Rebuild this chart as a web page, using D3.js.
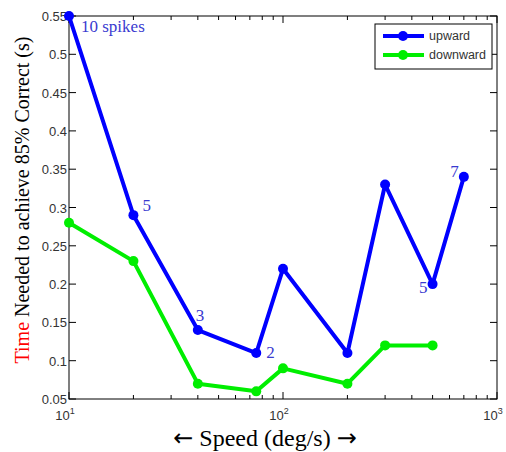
<!DOCTYPE html>
<html>
<head>
<meta charset="utf-8">
<script src="https://cdn.jsdelivr.net/npm/d3@7"></script>
<style>
  body { margin: 0; background: #fff; }
</style>
</head>
<body>
<div id="chart"></div>
<script>
// data
const speedsUp = [10, 20, 40, 75, 100, 200, 300, 500, 700];
const timeUp = [0.55, 0.29, 0.14, 0.11, 0.22, 0.11, 0.33, 0.20, 0.34];
const speedsDown = [10, 20, 40, 75, 100, 200, 300, 500];
const timeDown = [0.28, 0.23, 0.07, 0.06, 0.09, 0.07, 0.12, 0.12];
const spikeLabels = [
  {x: 10, y: 0.55, text: "10 spikes", dx: 12, dy: 16, anchor: "start"},
  {x: 20, y: 0.29, text: "5", dx: 9, dy: -4, anchor: "start"},
  {x: 40, y: 0.14, text: "3", dx: -2, dy: -9, anchor: "start"},
  {x: 75, y: 0.11, text: "2", dx: 10, dy: 5, anchor: "start"},
  {x: 500, y: 0.20, text: "5", dx: -5, dy: 9, anchor: "end"},
  {x: 700, y: 0.34, text: "7", dx: -5, dy: 0, anchor: "end"}
];
const yTicks = [0.05, 0.1, 0.15, 0.2, 0.25, 0.3, 0.35, 0.4, 0.45, 0.5, 0.55];
const xMajor = [10, 100, 1000];

const width = 506, height = 452;
const mLeft = 69, mRight = 497, mTop = 16, mBottom = 399;
const serif = "'Liberation Serif', 'Times New Roman', serif";
const sans = "'Liberation Sans', Arial, sans-serif";

const svg = d3.select("#chart").append("svg")
  .attr("width", width)
  .attr("height", height);

const x = d3.scaleLog().domain([10, 1000]).range([mLeft, mRight]);
const y = d3.scaleLinear().domain([0.05, 0.55]).range([mBottom, mTop]);

// box
svg.append("rect")
  .attr("x", mLeft).attr("y", mTop)
  .attr("width", mRight - mLeft).attr("height", mBottom - mTop)
  .attr("fill", "none").attr("stroke", "#000").attr("stroke-width", 1);

// x ticks (inward, bottom and top)
const xMinor = [];
for (let d = 10; d < 1000; d *= 10) {
  for (let k = 2; k <= 9; k++) xMinor.push(d * k);
}
xMinor.forEach(v => {
  svg.append("line").attr("x1", x(v)).attr("x2", x(v)).attr("y1", mBottom).attr("y2", mBottom - 4).attr("stroke", "#000");
  svg.append("line").attr("x1", x(v)).attr("x2", x(v)).attr("y1", mTop).attr("y2", mTop + 4).attr("stroke", "#000");
});
xMajor.forEach(v => {
  svg.append("line").attr("x1", x(v)).attr("x2", x(v)).attr("y1", mBottom).attr("y2", mBottom - 7).attr("stroke", "#000");
  svg.append("line").attr("x1", x(v)).attr("x2", x(v)).attr("y1", mTop).attr("y2", mTop + 7).attr("stroke", "#000");
  const t = svg.append("text")
    .attr("x", x(v) - 4).attr("y", mBottom + 21)
    .attr("text-anchor", "middle")
    .attr("font-family", sans)
    .attr("font-size", 13).attr("fill", "#333");
  t.append("tspan").text("10");
  t.append("tspan").attr("dy", -6).attr("font-size", 9).text(Math.round(Math.log10(v)));
});

// y ticks
yTicks.forEach(v => {
  svg.append("line").attr("x1", mLeft).attr("x2", mLeft + 7).attr("y1", y(v)).attr("y2", y(v)).attr("stroke", "#000");
  svg.append("line").attr("x1", mRight).attr("x2", mRight - 7).attr("y1", y(v)).attr("y2", y(v)).attr("stroke", "#000");
  svg.append("text")
    .attr("x", mLeft - 2).attr("y", y(v) + 5)
    .attr("text-anchor", "end")
    .attr("font-family", sans)
    .attr("font-size", 13).attr("fill", "#333")
    .text(Math.round(v * 100) % 10 === 0 ? v.toFixed(1) : v.toFixed(2));
});

// lines
const line = d3.line().x(d => x(d[0])).y(d => y(d[1]));
const series = [
  {name: "upward", color: "#0000ff", pts: d3.zip(speedsUp, timeUp)},
  {name: "downward", color: "#00ee00", pts: d3.zip(speedsDown, timeDown)}
];
series.slice().reverse().forEach(s => {
  svg.append("path").datum(s.pts)
    .attr("d", line)
    .attr("fill", "none")
    .attr("stroke", s.color)
    .attr("stroke-width", 4)
    .attr("stroke-linejoin", "round");
  svg.selectAll(null).data(s.pts).enter().append("circle")
    .attr("cx", d => x(d[0])).attr("cy", d => y(d[1]))
    .attr("r", 5).attr("fill", s.color);
});

// spike count labels
svg.selectAll(".spk").data(spikeLabels).enter().append("text")
  .attr("x", d => x(d.x) + d.dx).attr("y", d => y(d.y) + d.dy)
  .attr("text-anchor", d => d.anchor)
  .attr("font-family", serif)
  .attr("font-size", 17).attr("fill", "#3a3ad0")
  .text(d => d.text);

// legend
const lg = svg.append("g");
lg.append("rect").attr("x", 375).attr("y", 24).attr("width", 117).attr("height", 45)
  .attr("fill", "#fff").attr("stroke", "#000").attr("stroke-width", 1);
series.forEach((s, i) => {
  const ly = 36 + i * 19;
  lg.append("line").attr("x1", 383).attr("x2", 424).attr("y1", ly).attr("y2", ly)
    .attr("stroke", s.color).attr("stroke-width", 4);
  lg.append("circle").attr("cx", 403).attr("cy", ly).attr("r", 5).attr("fill", s.color);
  lg.append("text").attr("x", 429).attr("y", ly + 4)
    .attr("font-family", sans)
    .attr("font-size", 12.5).attr("fill", "#333").text(s.name);
});

// axis titles
const xl = svg.append("text")
  .attr("x", 265).attr("y", 446)
  .attr("text-anchor", "middle")
  .attr("font-family", serif)
  .attr("font-size", 24).attr("fill", "#000");
xl.append("tspan").attr("font-family", "'DejaVu Sans', sans-serif").attr("font-size", 24).text("\u2190");
xl.append("tspan").text(" Speed (deg/s) ");
xl.append("tspan").attr("font-family", "'DejaVu Sans', sans-serif").attr("font-size", 24).text("\u2192");

const yl = svg.append("text")
  .attr("transform", "translate(29,200) rotate(-90)")
  .attr("text-anchor", "middle")
  .attr("font-family", serif)
  .attr("font-size", 20);
yl.append("tspan").attr("fill", "#ff0000").text("Time");
yl.append("tspan").attr("fill", "#000").text(" Needed to achieve 85% Correct (s)");
</script>
</body>
</html>
